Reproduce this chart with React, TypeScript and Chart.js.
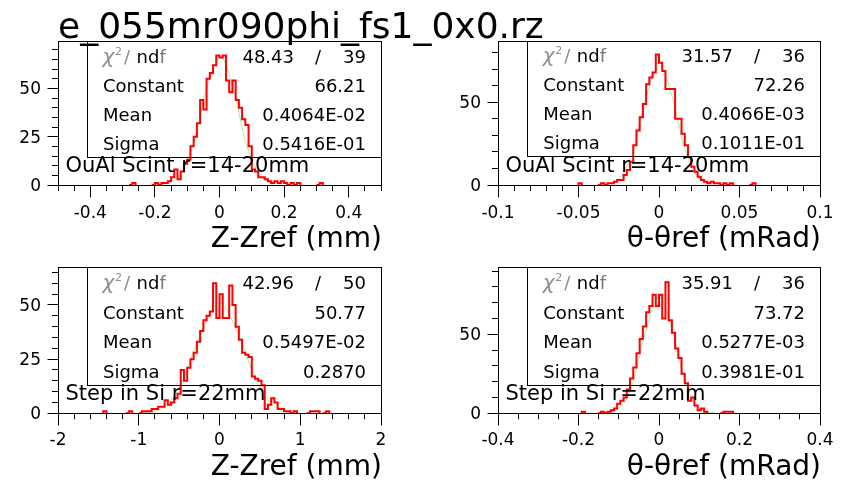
import React, { useEffect, useRef } from "react";
import { Chart, registerables } from "chart.js";

Chart.register(...registerables);

const FONT = "'DejaVu Sans', 'Liberation Sans', sans-serif";
const TITLE = "e_055mr090phi_fs1_0x0.rz";

// ---------- Panel 1 : Z-Zref, OuAl Scint ----------
const p1BinStart = -0.28;
const p1BinWidth = 0.01;
const p1Counts = [
  0, 1, 0, 0, 0, 0, 0, 0, 1, 0, 1, 1, 2, 4, 8, 3, 7, 11, 13, 20, 25, 32, 44, 39, 55, 58, 62, 67,
  66, 67, 54, 48, 54, 44, 40, 34, 31, 20, 8, 7, 4, 4, 3, 2, 1, 2, 1, 2, 1, 0, 1, 0, 1, 0, 0, 0, 0, 0, 0, 1,
];
const p1FitX = [-0.16, -0.12, -0.08, -0.04, 0.004, 0.04, 0.08, 0.12, 0.16];
const p1FitY = [0.9, 5.9, 22, 50, 66, 52, 23, 6.2, 1];
const p1XRange = [-0.5, 0.5];
const p1YMax = 74.5;
const p1XMajor = [-0.4, -0.2, 0, 0.2, 0.4];
const p1XLabels = ["-0.4", "-0.2", "0", "0.2", "0.4"];
const p1YMajor = [0, 25, 50];
const p1Stats = ["48.43", "39", "66.21", "0.4064E-02", "0.5416E-01"];
const p1Label = "OuAl Scint r=14-20mm";
const p1AxisTitle = "Z-Zref (mm)";

// ---------- Panel 2 : theta-thetaref, OuAl Scint ----------
const p2BinStart = -0.05;
const p2BinWidth = 0.002;
const p2Counts = [
  1, 0, 0, 0, 0, 0, 0, 1, 0, 1, 1, 2, 3, 3, 6, 9, 14, 24, 33, 41, 49, 61, 65, 68, 79,
  74, 69, 58, 58, 58, 40, 40, 31, 24, 17, 11, 8, 5, 3, 2, 1, 2, 1, 1, 0, 1, 0, 1, 0, 0, 0, 0, 0, 0, 1,
];
const p2FitX = [-0.032, -0.024, -0.016, -0.008, 0.0004, 0.008, 0.016, 0.024, 0.032];
const p2FitY = [0.5, 4.6, 21, 53, 72, 54, 22, 5, 0.6];
const p2XRange = [-0.1, 0.1];
const p2YMax = 87.1;
const p2XMajor = [-0.1, -0.05, 0, 0.05, 0.1];
const p2XLabels = ["-0.1", "-0.05", "0", "0.05", "0.1"];
const p2YMajor = [0, 50];
const p2Stats = ["31.57", "36", "72.26", "0.4066E-03", "0.1011E-01"];
const p2Label = "OuAl Scint r=14-20mm";
const p2AxisTitle = "θ-θref (mRad)";

// ---------- Panel 3 : Z-Zref, Step in Si ----------
const p3BinStart = -1.44;
const p3BinWidth = 0.04;
const p3Counts = [
  1, 0, 0, 0, 0, 0, 0, 0, 1, 0, 0, 0, 1, 1, 1, 2, 2, 3, 3, 6, 4, 5, 7, 9, 20, 15, 21, 25, 28, 33, 38, 43, 45, 47, 60, 44,
  55, 44, 44, 59, 50, 40, 34, 28, 27, 26, 17, 16, 15, 13, 2, 4, 7, 5, 2, 2, 1, 1, 0, 1, 0, 0, 0, 0, 1, 1, 1, 0, 0, 1,
];
const p3FitX = [-0.96, -0.72, -0.48, -0.24, 0.0055, 0.24, 0.48, 0.72, 0.96];
const p3FitY = [0.2, 2, 13, 36, 51, 36, 13, 2.2, 0.2];
const p3XRange = [-2, 2];
const p3YMax = 67.2;
const p3XMajor = [-2, -1, 0, 1, 2];
const p3XLabels = ["-2", "-1", "0", "1", "2"];
const p3YMajor = [0, 25, 50];
const p3Stats = ["42.96", "50", "50.77", "0.5497E-02", "0.2870"];
const p3Label = "Step in Si r=22mm";
const p3AxisTitle = "Z-Zref (mm)";

// ---------- Panel 4 : theta-thetaref, Step in Si ----------
const p4BinStart = -0.192;
const p4BinWidth = 0.008;
const p4Counts = [
  1, 0, 0, 0, 0, 0, 1, 0, 1, 2, 3, 6, 8, 10, 15, 22, 29, 38, 47, 55, 64, 68, 75, 68,
  75, 60, 83, 59, 51, 41, 35, 25, 19, 8, 10, 5, 2, 3, 1, 0, 0, 0, 0, 0, 1, 1, 1,
];
const p4FitX = [-0.14, -0.105, -0.07, -0.035, 0.0005, 0.035, 0.07, 0.105, 0.14];
const p4FitY = [0.15, 2.2, 15, 50, 74, 51, 16, 2.3, 0.15];
const p4XRange = [-0.4, 0.4];
const p4YMax = 92.2;
const p4XMajor = [-0.4, -0.2, 0, 0.2, 0.4];
const p4XLabels = ["-0.4", "-0.2", "0", "0.2", "0.4"];
const p4YMajor = [0, 50];
const p4Stats = ["35.91", "36", "73.72", "0.5277E-03", "0.3981E-01"];
const p4Label = "Step in Si r=22mm";
const p4AxisTitle = "θ-θref (mRad)";

const STAT_NAMES = ["Constant", "Mean", "Sigma"];

const PANELS = [
  {
    key: "p1", left: 0, top: 0, width: 421, height: 258,
    area: { left: 58, right: 381, top: 41, bottom: 185 },
    binStart: p1BinStart, binWidth: p1BinWidth, counts: p1Counts, fitX: p1FitX, fitY: p1FitY,
    xRange: p1XRange, yMax: p1YMax, xMinor: 0.05, yMinor: 5,
    xMajor: p1XMajor, xLabels: p1XLabels, yMajor: p1YMajor,
    statLeft: 87, statBottom: 157, stats: p1Stats, label: p1Label, axisTitle: p1AxisTitle, xLabelDy: 33.3,
  },
  {
    key: "p2", left: 421, top: 0, width: 421, height: 258,
    area: { left: 77, right: 399, top: 41, bottom: 185 },
    binStart: p2BinStart, binWidth: p2BinWidth, counts: p2Counts, fitX: p2FitX, fitY: p2FitY,
    xRange: p2XRange, yMax: p2YMax, xMinor: 0.01, yMinor: 10,
    xMajor: p2XMajor, xLabels: p2XLabels, yMajor: p2YMajor,
    statLeft: 106.3, statBottom: 156.7, stats: p2Stats, label: p2Label, axisTitle: p2AxisTitle, xLabelDy: 33.3,
  },
  {
    key: "p3", left: 0, top: 258, width: 421, height: 226,
    area: { left: 58, right: 381, top: 9.7, bottom: 155.3 },
    binStart: p3BinStart, binWidth: p3BinWidth, counts: p3Counts, fitX: p3FitX, fitY: p3FitY,
    xRange: p3XRange, yMax: p3YMax, xMinor: 0.2, yMinor: 5,
    xMajor: p3XMajor, xLabels: p3XLabels, yMajor: p3YMajor,
    statLeft: 87, statBottom: 127.7, stats: p3Stats, label: p3Label, axisTitle: p3AxisTitle, xLabelDy: 31.7,
  },
  {
    key: "p4", left: 421, top: 258, width: 421, height: 226,
    area: { left: 77, right: 399, top: 9.7, bottom: 155.3 },
    binStart: p4BinStart, binWidth: p4BinWidth, counts: p4Counts, fitX: p4FitX, fitY: p4FitY,
    xRange: p4XRange, yMax: p4YMax, xMinor: 0.05, yMinor: 10,
    xMajor: p4XMajor, xLabels: p4XLabels, yMajor: p4YMajor,
    statLeft: 106.3, statBottom: 127.7, stats: p4Stats, label: p4Label, axisTitle: p4AxisTitle, xLabelDy: 31.7,
  },
];

const al = (p: number) => Math.round(p - 0.5) + 0.5;

function histPoints(start: number, width: number, counts: number[]) {
  const pts = [{ x: start, y: 0 }];
  counts.forEach((c, i) => pts.push({ x: start + i * width, y: c }));
  pts.push({ x: start + counts.length * width, y: 0 });
  return pts;
}

function decorPlugin(cfg: any) {
  return {
    id: "rootDecor_" + cfg.key,
    afterDraw(chart: any) {
      const { ctx, chartArea: a } = chart;
      const xs = chart.scales.x;
      const ys = chart.scales.y;
      ctx.save();
      ctx.strokeStyle = "#000";
      ctx.lineWidth = 1;
      const L = al(a.left), R = al(a.right), T = al(a.top), B = al(a.bottom);
      ctx.strokeRect(L, T, R - L, B - T);

      // major ticks
      ctx.beginPath();
      cfg.xMajor.forEach((v: number) => {
        const px = al(xs.getPixelForValue(v));
        ctx.moveTo(px, B);
        ctx.lineTo(px, B + 12);
      });
      cfg.yMajor.forEach((v: number) => {
        const py = al(ys.getPixelForValue(v));
        ctx.moveTo(L, py);
        ctx.lineTo(L - 11, py);
      });
      ctx.stroke();

      // tick labels
      ctx.fillStyle = "#000";
      ctx.font = `17px ${FONT}`;
      ctx.textBaseline = "alphabetic";
      ctx.textAlign = "center";
      cfg.xMajor.forEach((v: number, i: number) => {
        ctx.fillText(cfg.xLabels[i], xs.getPixelForValue(v), a.bottom + cfg.xLabelDy);
      });
      ctx.textAlign = "right";
      cfg.yMajor.forEach((v: number) => {
        ctx.fillText(String(v), a.left - 17, ys.getPixelForValue(v) + 6);
      });

      // stat box
      const bl = al(cfg.statLeft);
      const bb = al(cfg.statBottom);
      ctx.strokeRect(bl, T, R - bl, bb - T);
      const rowH = (cfg.statBottom - a.top) / 4;
      const base = (k: number) => a.top + rowH * (k + 0.5) + 7;
      const bx = cfg.statLeft;
      const br = a.right;

      // chi2 / ndf row
      const b0 = base(0);
      ctx.textAlign = "left";
      ctx.fillStyle = "#8c8c8c";
      ctx.font = `italic 20px ${FONT}`;
      ctx.fillText("χ", bx + 15.5, b0);
      ctx.font = `11px ${FONT}`;
      ctx.fillText("2", bx + 28, b0 - 8);
      ctx.font = `18px ${FONT}`;
      ctx.fillText("/", bx + 37, b0);
      ctx.fillStyle = "#000";
      ctx.fillText("nd", bx + 49.5, b0);
      ctx.fillStyle = "#7a7a7a";
      ctx.fillText("f", bx + 72.5, b0);
      ctx.fillStyle = "#000";
      ctx.textAlign = "right";
      ctx.fillText(cfg.stats[0], br - 87, b0);
      ctx.textAlign = "center";
      ctx.fillText("/", br - 63, b0);
      ctx.textAlign = "right";
      ctx.fillText(cfg.stats[1], br - 15, b0);

      for (let k = 0; k < 3; k++) {
        const bk = base(k + 1);
        ctx.textAlign = "left";
        ctx.fillText(STAT_NAMES[k], bx + 16, bk);
        ctx.textAlign = "right";
        ctx.fillText(cfg.stats[k + 2], br - 15, bk);
      }

      // histogram label
      ctx.textAlign = "left";
      ctx.font = `21px ${FONT}`;
      ctx.fillText(cfg.label, a.left + 7.5, a.bottom - 13.3);

      // axis title
      ctx.textAlign = "right";
      ctx.font = `28px ${FONT}`;
      ctx.fillText(cfg.axisTitle, a.right + 1, a.bottom + 62);

      ctx.restore();
    },
  };
}

function Panel({ cfg }: { cfg: any }) {
  const ref = useRef<HTMLCanvasElement | null>(null);
  useEffect(() => {
    const canvas = ref.current;
    if (!canvas) return;
    const a = cfg.area;
    const fitPts = cfg.fitX.map((x: number, i: number) => ({ x, y: cfg.fitY[i] }));
    const chart = new Chart(canvas, {
      type: "line",
      data: {
        datasets: [
          {
            data: histPoints(cfg.binStart, cfg.binWidth, cfg.counts),
            borderColor: "#ff0000",
            borderWidth: 2,
            stepped: "before",
            pointRadius: 0,
            pointHoverRadius: 0,
            fill: false,
            segment: {
              borderColor: (c: any) =>
                c.p0.parsed.y === 0 && c.p1.parsed.y === 0 ? "rgba(0,0,0,0)" : undefined,
            },
          },
          {
            data: fitPts,
            borderColor: "#a6eca6",
            borderWidth: 1,
            cubicInterpolationMode: "monotone",
            pointRadius: 0,
            pointHoverRadius: 0,
            fill: false,
          },
        ],
      },
      options: {
        responsive: false,
        animation: false,
        events: [],
        layout: { padding: { left: 0, top: a.top, right: cfg.width - a.right, bottom: 0 } },
        plugins: { legend: { display: false }, tooltip: { enabled: false }, title: { display: false } },
        scales: {
          x: {
            type: "linear",
            min: cfg.xRange[0],
            max: cfg.xRange[1],
            bounds: "data",
            ticks: { display: false, stepSize: cfg.xMinor, autoSkip: false },
            grid: {
              drawOnChartArea: false, drawTicks: true, tickLength: 6,
              color: "#000", tickColor: "#000", lineWidth: 1, tickWidth: 1,
            },
            border: { display: false },
            afterFit: (s: any) => { s.height = cfg.height - a.bottom; },
          },
          y: {
            type: "linear",
            min: 0,
            max: cfg.yMax,
            bounds: "data",
            ticks: { display: false, stepSize: cfg.yMinor, includeBounds: false, autoSkip: false },
            grid: {
              drawOnChartArea: false, drawTicks: true, tickLength: 6,
              color: "#000", tickColor: "#000", lineWidth: 1, tickWidth: 1,
            },
            border: { display: false },
            afterFit: (s: any) => { s.width = a.left; },
          },
        },
      } as any,
      plugins: [decorPlugin(cfg)],
    } as any);
    return () => chart.destroy();
  }, [cfg]);
  return (
    <canvas
      ref={ref}
      width={cfg.width}
      height={cfg.height}
      style={{ position: "absolute", left: cfg.left, top: cfg.top, width: cfg.width, height: cfg.height }}
    />
  );
}

export default function App() {
  return (
    <div
      style={{
        position: "fixed", left: 0, top: 0, width: 842, height: 484,
        background: "#fff", overflow: "hidden",
      }}
    >
      {PANELS.map((p) => (
        <Panel key={p.key} cfg={p} />
      ))}
      <div
        style={{
          position: "absolute", left: 58, top: 7.8, fontFamily: FONT, fontSize: 36,
          lineHeight: "36px", whiteSpace: "nowrap", color: "#000",
        }}
      >
        {TITLE}
      </div>
    </div>
  );
}
